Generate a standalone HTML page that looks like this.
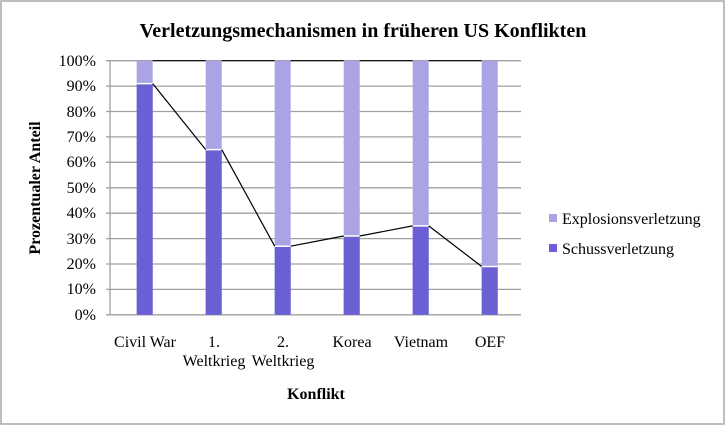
<!DOCTYPE html><html><head><style>body{margin:0;background:#fff}svg text{font-family:"Liberation Serif","DejaVu Serif",serif}</style></head><body>
<svg width="726" height="426" xmlns="http://www.w3.org/2000/svg" style="font-family:'Liberation Serif',serif">
<rect x="1" y="1" width="723" height="423" fill="#fff" stroke="#a9a9a9" stroke-width="1.5"/>
<text x="363" y="37" text-anchor="middle" font-size="20" font-weight="bold">Verletzungsmechanismen in früheren US Konflikten</text>
<g stroke="#a0a0a0" stroke-width="1.3">
<line x1="106" x2="521" y1="60.7" y2="60.7"/><line x1="106" x2="521" y1="86.1" y2="86.1"/><line x1="106" x2="521" y1="111.5" y2="111.5"/><line x1="106" x2="521" y1="136.9" y2="136.9"/><line x1="106" x2="521" y1="162.3" y2="162.3"/><line x1="106" x2="521" y1="187.8" y2="187.8"/><line x1="106" x2="521" y1="213.2" y2="213.2"/><line x1="106" x2="521" y1="238.6" y2="238.6"/><line x1="106" x2="521" y1="264" y2="264"/><line x1="106" x2="521" y1="289.4" y2="289.4"/><line x1="106" x2="521" y1="314.8" y2="314.8"/>
<line x1="110" x2="110" y1="60.7" y2="315"/>
</g>
<g font-size="16" text-anchor="end">
<text x="96" y="66">100%</text><text x="96" y="91">90%</text><text x="96" y="117">80%</text><text x="96" y="142">70%</text><text x="96" y="167">60%</text><text x="96" y="193">50%</text><text x="96" y="218">40%</text><text x="96" y="244">30%</text><text x="96" y="269">20%</text><text x="96" y="294">10%</text><text x="96" y="320">0%</text>
</g>
<g>
<rect x="136.7" y="60.7" width="16" height="254.1" fill="#aaa3e4"/><rect x="136.7" y="83.6" width="16" height="231.2" fill="#6b5fd6"/>
<rect x="205.7" y="60.7" width="16" height="254.1" fill="#aaa3e4"/><rect x="205.7" y="149.6" width="16" height="165.2" fill="#6b5fd6"/>
<rect x="274.7" y="60.7" width="16" height="254.1" fill="#aaa3e4"/><rect x="274.7" y="246.2" width="16" height="68.6" fill="#6b5fd6"/>
<rect x="343.7" y="60.7" width="16" height="254.1" fill="#aaa3e4"/><rect x="343.7" y="236" width="16" height="78.8" fill="#6b5fd6"/>
<rect x="412.7" y="60.7" width="16" height="254.1" fill="#aaa3e4"/><rect x="412.7" y="225.9" width="16" height="88.9" fill="#6b5fd6"/>
<rect x="481.7" y="60.7" width="16" height="254.1" fill="#aaa3e4"/><rect x="481.7" y="266.5" width="16" height="48.3" fill="#6b5fd6"/>
</g>
<g stroke="#fff" stroke-width="1.5">
<line x1="136.7" x2="152.7" y1="83.6" y2="83.6"/><line x1="205.7" x2="221.7" y1="149.6" y2="149.6"/><line x1="274.7" x2="290.7" y1="246.2" y2="246.2"/><line x1="343.7" x2="359.7" y1="236" y2="236"/><line x1="412.7" x2="428.7" y1="225.9" y2="225.9"/><line x1="481.7" x2="497.7" y1="266.5" y2="266.5"/>
</g>
<g stroke="#000" stroke-width="1.2" fill="none">
<polyline points="152.7,60.7 205.7,60.7"/><polyline points="221.7,60.7 274.7,60.7"/><polyline points="290.7,60.7 343.7,60.7"/><polyline points="359.7,60.7 412.7,60.7"/><polyline points="428.7,60.7 481.7,60.7"/>
<line x1="152.7" y1="83.6" x2="205.7" y2="149.6"/><line x1="221.7" y1="149.6" x2="274.7" y2="246.2"/><line x1="290.7" y1="246.2" x2="343.7" y2="236"/><line x1="359.7" y1="236" x2="412.7" y2="225.9"/><line x1="428.7" y1="225.9" x2="481.7" y2="266.5"/>
</g>
<g font-size="16" text-anchor="middle">
<text x="145" y="347">Civil War</text>
<text x="214" y="347">1.</text><text x="214" y="366">Weltkrieg</text>
<text x="283" y="347">2.</text><text x="283" y="366">Weltkrieg</text>
<text x="352" y="347">Korea</text><text x="421" y="347">Vietnam</text><text x="490" y="347">OEF</text>
</g>
<text x="316" y="399" text-anchor="middle" font-size="16" font-weight="bold">Konflikt</text>
<text transform="translate(40,188) rotate(-90)" text-anchor="middle" font-size="16" font-weight="bold">Prozentualer Anteil</text>
<rect x="549" y="214" width="8" height="8" fill="#aaa3e4"/><text x="562" y="224" font-size="16">Explosionsverletzung</text>
<rect x="549" y="244" width="8" height="8" fill="#6b5fd6"/><text x="562" y="254" font-size="16">Schussverletzung</text>
</svg></body></html>
